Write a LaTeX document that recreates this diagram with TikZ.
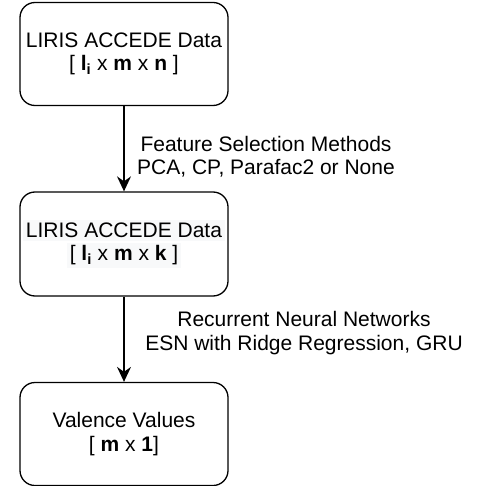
\documentclass[tikz,border=0pt]{standalone}
\usepackage{fontspec}
\setmainfont{Liberation Sans}
\usetikzlibrary{arrows.meta}
\definecolor{hl}{HTML}{F8F9FA}
\begin{document}
\begin{tikzpicture}[x=1pt,y=-1pt,
  font=\fontsize{21}{23.5}\selectfont,
  box/.style={draw=black, line width=1.3pt, rounded corners=15pt, minimum width=208pt, inner sep=0pt, align=center, fill=white},
  conn/.style={line width=1.3pt, -{Stealth[length=15pt,width=14pt,inset=5pt]}},
  lab/.style={align=center, inner sep=0pt}]
\useasboundingbox (0,0) rectangle (482,486);
\node[box, minimum height=103pt] (a) at (124,54) {LIRIS ACCEDE Data\\{[ \textbf{l}\textsubscript{\textbf{i}} x \textbf{m} x \textbf{n} ]}};
\node[box, minimum height=104pt] (b) at (124,244) {\colorbox{hl}{LIRIS ACCEDE Data}\\\colorbox{hl}{[ \textbf{l}\textsubscript{\textbf{i}} x \textbf{m} x \textbf{k} ]}};
\node[box, minimum height=103pt] (c) at (124,434) {Valence Values\\{[ \textbf{m} x \textbf{1}]}};
\draw[conn] (a) -- (b) node[lab, midway, xshift=142pt, yshift=-8pt] (la) {Feature Selection Methods\\PCA, CP, Parafac2 or None};
\draw[conn] (b) -- (c) node[lab, midway, xshift=180pt, yshift=6pt] (lb) {Recurrent Neural Networks\\ESN with Ridge Regression, GRU};
\end{tikzpicture}
\end{document}
